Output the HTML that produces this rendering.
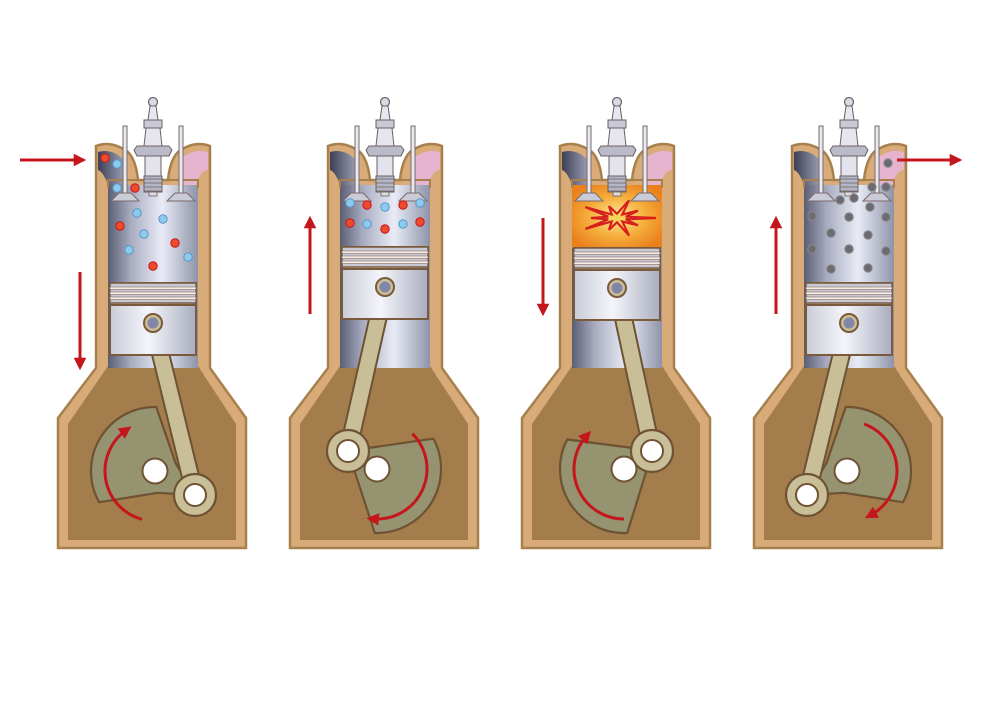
<!DOCTYPE html>
<html><head><meta charset="utf-8"><style>
html,body{margin:0;padding:0;background:#fff;width:1000px;height:707px;overflow:hidden}
svg{display:block}
</style></head><body>
<svg id="s" width="1000" height="707" viewBox="0 0 1000 707" xmlns="http://www.w3.org/2000/svg">
<defs>
<linearGradient id="bore" x1="0" x2="1" y1="0" y2="0">
<stop offset="0" stop-color="#5b5e72"/><stop offset="0.25" stop-color="#a7abbf"/><stop offset="0.6" stop-color="#e9ecf6"/><stop offset="1" stop-color="#8e93a8"/></linearGradient>
<linearGradient id="pist" x1="0" x2="1" y1="0" y2="0">
<stop offset="0" stop-color="#c9ccd8"/><stop offset="0.45" stop-color="#f4f5fa"/><stop offset="1" stop-color="#a9adbf"/></linearGradient>
<radialGradient id="fire" cx="0.5" cy="0.5" r="0.6">
<stop offset="0" stop-color="#fde9a0"/><stop offset="0.5" stop-color="#f6b13e"/><stop offset="1" stop-color="#e9801c"/></radialGradient>
<linearGradient id="inlet" x1="0" x2="1"><stop offset="0" stop-color="#3e3f55"/><stop offset="1" stop-color="#9a9db2"/></linearGradient>
<marker id="ah" viewBox="0 0 10 10" refX="5" refY="5" markerWidth="4.2" markerHeight="4.2" orient="auto"><path d="M0,0 L10,5 L0,10 Z" fill="#c4161c"/></marker>
</defs>
<g id="g"></g>
</svg>
<script>
var out="";
function E(s){out+=s;}
var cfg=[
{dx:0,pt:283,cc:[155,471],cp:[195,495],mode:"in",arc:[105,235]},
{dx:232,pt:247,cc:[377,469],cp:[348,451],mode:"comp",arc:[-45,95]},
{dx:464,pt:248,cc:[624,469],cp:[652,451],mode:"fire",arc:[90,222]},
{dx:696,pt:283,cc:[847,471],cp:[807,495],mode:"ex",arc:[-70,62]}
];
cfg.forEach(function(c){
 var d=c.dx;
 E('<g transform="translate('+d+',0)">');
 E('<path d="M96,368 L96,146 Q112,140 128,152 Q136,160 138,180 L168,180 Q170,160 178,152 Q194,140 210,146 L210,368 L246,418 L246,548 L58,548 L58,418 Z" fill="#d8ab79" stroke="#a7814d" stroke-width="2.5"/>');
 E('<path d="M108,366 L198,366 L236,424 L236,540 L68,540 L68,424 Z" fill="#a37d4b"/>');
 E('<path d="M98,152 Q112,148 124,160 L124,188 L110,190 Q104,172 98,170 Z" fill="url(#inlet)"/>');
 E('<path d="M182,158 Q194,148 208,152 L208,170 Q200,170 196,186 L182,186 Z" fill="#e6b4cf"/>');
 var top=185;
 var chFill=c.mode=="fire"?"url(#fire)":"url(#bore)";
 E('<rect x="108" y="'+top+'" width="90" height="'+(368-top)+'" fill="url(#bore)"/>');
 E('<rect x="108" y="'+top+'" width="90" height="'+(c.pt-top)+'" fill="'+chFill+'"/>');
 E('<path d="M108,188 L108,180 L198,180 L198,188" fill="none" stroke="#a7814d" stroke-width="2"/>');
 [125,181].forEach(function(vx){
  E('<rect x="'+(vx-2)+'" y="126" width="4" height="68" fill="#e8e9f0" stroke="#7a6a6a" stroke-width="1"/>');
  E('<path d="M'+(vx-14)+',201 L'+(vx+14)+',201 L'+(vx+6)+',193 L'+(vx-6)+',193 Z" fill="#c9cbd6" stroke="#7a6a6a" stroke-width="1"/>');
 });
 E('<circle cx="153" cy="102" r="4.5" fill="#d8d9e2" stroke="#6d5f63" stroke-width="1.2"/>');
 E('<path d="M150,106 L156,106 L158,120 L148,120 Z" fill="#e6e7ee" stroke="#6d5f63"/>');
 E('<rect x="144" y="120" width="18" height="8" fill="#c9cad6" stroke="#6d5f63"/>');
 E('<path d="M146,128 L160,128 L162,146 L144,146 Z" fill="#e6e7ee" stroke="#6d5f63"/>');
 E('<path d="M137,146 L169,146 L172,150 L169,156 L137,156 L134,150 Z" fill="#b9bbcb" stroke="#6d5f63"/>');
 E('<rect x="145" y="156" width="16" height="20" fill="#e2e3ec" stroke="#6d5f63"/>');
 E('<rect x="144" y="176" width="18" height="16" fill="#b4b6c6" stroke="#6d5f63"/>');
 for(var i=0;i<4;i++)E('<line x1="144" x2="162" y1="'+(179+i*4)+'" y2="'+(179+i*4)+'" stroke="#6d5f63" stroke-width="0.8"/>');
 E('<rect x="149" y="192" width="8" height="4" fill="#ddd" stroke="#6d5f63" stroke-width="0.8"/>');
 if(c.mode=="fire"){
  var pts=[],cx=153,cy=218;
  for(var k=0;k<20;k++){var a=k*Math.PI/10,r=(k%2==0)?(k%4==0?30:20):7;pts.push((cx+r*1.3*Math.cos(a)).toFixed(1)+","+(cy+r*0.62*Math.sin(a)).toFixed(1));}
  E('<polygon points="'+pts.join(" ")+'" fill="#f7d35a" stroke="#d5201d" stroke-width="2.2"/>');
 }
 var dots={
 in:[[105,158,"r"],[117,164,"b"],[117,188,"b"],[135,188,"r"],[120,226,"r"],[137,213,"b"],[163,219,"b"],[144,234,"b"],[175,243,"r"],[129,250,"b"],[188,257,"b"],[153,266,"r"]],
 comp:[[118,203,"b"],[135,205,"r"],[153,207,"b"],[171,205,"r"],[188,203,"b"],[118,223,"r"],[135,224,"b"],[153,229,"r"],[171,224,"b"],[188,222,"r"]],
 ex:[[192,163,"g"],[176,187,"g"],[190,187,"g"],[144,200,"g"],[158,198,"g"],[174,207,"g"],[116,216,"g"],[153,217,"g"],[190,217,"g"],[135,233,"g"],[172,235,"g"],[116,249,"g"],[153,249,"g"],[190,251,"g"],[135,269,"g"],[172,268,"g"]]
 }[c.mode]||[];
 var col={r:["#ee4a2c","#c4161c"],b:["#8ccbef","#5a97c4"],g:["#6c6c70","#8a8a90"]};
 dots.forEach(function(p){E('<circle cx="'+p[0]+'" cy="'+p[1]+'" r="4.2" fill="'+col[p[2]][0]+'" stroke="'+col[p[2]][1]+'" stroke-width="1"/>');});
 var cc=[c.cc[0]-d,c.cc[1]],cp=[c.cp[0]-d,c.cp[1]];
 var ang=Math.atan2(cp[1]-cc[1],cp[0]-cc[0])+Math.PI;
 var R=64,w=1.05;
 var a1=ang-w,a2=ang+w;
 var p1=[cc[0]+R*Math.cos(a1),cc[1]+R*Math.sin(a1)],p2=[cc[0]+R*Math.cos(a2),cc[1]+R*Math.sin(a2)];
 var b1=[cc[0]+22*Math.cos(ang+Math.PI-0.9),cc[1]+22*Math.sin(ang+Math.PI-0.9)],b2=[cc[0]+22*Math.cos(ang+Math.PI+0.9),cc[1]+22*Math.sin(ang+Math.PI+0.9)];
 E('<path d="M'+b2[0]+','+b2[1]+' L'+p1[0]+','+p1[1]+' A'+R+','+R+' 0 0 1 '+p2[0]+','+p2[1]+' L'+b1[0]+','+b1[1]+' L'+cp[0]+','+cp[1]+' Z" fill="#969470" stroke="#6e5233" stroke-width="2.2" stroke-linejoin="round"/>');
 var pt=c.pt;
 E('<rect x="110" y="'+pt+'" width="86" height="72" fill="url(#pist)" stroke="#7a5a3a" stroke-width="2"/>');
 E('<rect x="110" y="'+pt+'" width="86" height="20" fill="#c7c9d5" stroke="#7a5a3a" stroke-width="1.5"/>');
 for(var j=0;j<3;j++)E('<rect x="110" y="'+(pt+4+j*5)+'" width="86" height="2.5" fill="#f3eee9" stroke="#8a6a5a" stroke-width="0.6"/>');
 var pin=[153,pt+40];
 E('<line x1="'+pin[0]+'" y1="'+pin[1]+'" x2="'+cp[0]+'" y2="'+cp[1]+'" stroke="#6e5233" stroke-width="19" stroke-linecap="round"/>');
 E('<line x1="'+pin[0]+'" y1="'+pin[1]+'" x2="'+cp[0]+'" y2="'+cp[1]+'" stroke="#c8bf98" stroke-width="15" stroke-linecap="round"/>');
 E('<rect x="110" y="'+(pt+22)+'" width="86" height="50" fill="url(#pist)" stroke="#7a5a3a" stroke-width="2"/>');
 E('<circle cx="153" cy="'+pin[1]+'" r="9" fill="#c8bf98" stroke="#7a5a3a" stroke-width="2"/>');
 E('<circle cx="153" cy="'+pin[1]+'" r="5.5" fill="#8186a8"/>');
 E('<circle cx="'+cp[0]+'" cy="'+cp[1]+'" r="21" fill="#c8bf98" stroke="#6e5233" stroke-width="2.2"/>');
 E('<circle cx="'+cp[0]+'" cy="'+cp[1]+'" r="11" fill="#fff" stroke="#6e5233" stroke-width="2"/>');
 E('<circle cx="'+cc[0]+'" cy="'+cc[1]+'" r="12.5" fill="#fff" stroke="#6e5233" stroke-width="2"/>');
 var r2=50,s=c.arc[0]*Math.PI/180,e=c.arc[1]*Math.PI/180;
 E('<path d="M'+(cc[0]+r2*Math.cos(s))+','+(cc[1]+r2*Math.sin(s))+' A'+r2+','+r2+' 0 0 1 '+(cc[0]+r2*Math.cos(e))+','+(cc[1]+r2*Math.sin(e))+'" fill="none" stroke="#c4161c" stroke-width="3" marker-end="url(#ah)"/>');
 E('</g>');
});
function arrow(x1,y1,x2,y2){E('<line x1="'+x1+'" y1="'+y1+'" x2="'+x2+'" y2="'+y2+'" stroke="#c4161c" stroke-width="3" marker-end="url(#ah)"/>');}
arrow(20,160,80,160);arrow(80,272,80,364);arrow(310,314,310,222);arrow(543,218,543,310);arrow(776,314,776,222);arrow(897,160,956,160);
document.getElementById("g").innerHTML=out;
</script>
</body></html>
